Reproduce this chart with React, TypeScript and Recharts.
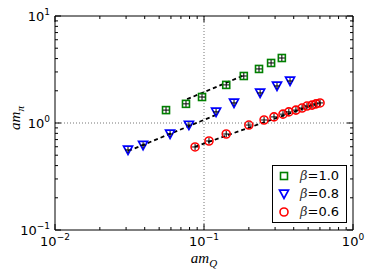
import React from 'react';
import { ComposedChart, Scatter, XAxis, YAxis, ReferenceLine, Legend, Label } from 'recharts';

// axis ticks (log scale)
const xMajorTicks = [0.01, 0.1, 1];
const xMinorTicks = [0.02, 0.03, 0.04, 0.05, 0.06, 0.07, 0.08, 0.09, 0.2, 0.3, 0.4, 0.5, 0.6, 0.7, 0.8, 0.9];
const yMajorTicks = [0.1, 1, 10];
const yMinorTicks = [0.2, 0.3, 0.4, 0.5, 0.6, 0.7, 0.8, 0.9, 2, 3, 4, 5, 6, 7, 8, 9];
const xTickExponents = ['\u22122', '\u22121', '0'];
const yTickExponents = ['\u22121', '0', '1'];

// beta = 1.0
const beta10X = [0.0556, 0.0757, 0.097, 0.141, 0.185, 0.234, 0.282, 0.333];
const beta10Y = [1.32, 1.51, 1.75, 2.27, 2.75, 3.2, 3.64, 4.05];
// beta = 0.8
const beta08X = [0.0309, 0.039, 0.0592, 0.0792, 0.1205, 0.159, 0.238, 0.309, 0.378];
const beta08Y = [0.56, 0.62, 0.79, 0.957, 1.27, 1.54, 1.91, 2.22, 2.47];
// beta = 0.6
const beta06X = [0.0871, 0.108, 0.141, 0.2, 0.253, 0.295, 0.339, 0.371, 0.414, 0.455, 0.491, 0.531, 0.565, 0.601];
const beta06Y = [0.597, 0.679, 0.789, 0.957, 1.067, 1.14, 1.21, 1.27, 1.32, 1.38, 1.44, 1.47, 1.51, 1.54];

// fitted lines (end points)
const fit10X = [0.077, 0.188];
const fit10Y = [1.67, 2.81];
const fit08X = [0.031, 0.124];
const fit08Y = [0.547, 1.21];
const fit06X = [0.087, 0.6];
const fit06Y = [0.6, 1.55];

const betaLabels = ['1.0', '0.8', '0.6'];

const toPoints = (xs: number[], ys: number[]) => xs.map((x, i) => ({ x, y: ys[i] }));

const GREEN = '#008000';
const BLUE = '#0000ff';
const RED = '#ff0000';

const Cross = ({ cx, cy }: { cx: number; cy: number }) => (
  <g stroke="#000" strokeWidth={1}>
    <line x1={cx - 3} y1={cy} x2={cx + 3} y2={cy} />
    <line x1={cx} y1={cy - 3} x2={cx} y2={cy + 3} />
  </g>
);

const Marker = ({ kind, cx, cy, cross }: { kind: string; cx: number; cy: number; cross?: boolean }) => {
  let body = null;
  if (kind === 'square') {
    body = <rect x={cx - 3.5} y={cy - 3.5} width={7} height={7} fill="none" stroke={GREEN} strokeWidth={1.6} />;
  } else if (kind === 'tri') {
    body = (
      <polygon
        points={`${cx - 4.5},${cy - 3.8} ${cx + 4.5},${cy - 3.8} ${cx},${cy + 4.5}`}
        fill="none"
        stroke={BLUE}
        strokeWidth={1.7}
        strokeLinejoin="miter"
      />
    );
  } else {
    body = <circle cx={cx} cy={cy} r={4} fill="none" stroke={RED} strokeWidth={1.6} />;
  }
  return (
    <g>
      {body}
      {cross && <Cross cx={cx} cy={cy} />}
    </g>
  );
};

const seriesList = [
  { kind: 'square', label: betaLabels[0] },
  { kind: 'tri', label: betaLabels[1] },
  { kind: 'circle', label: betaLabels[2] },
];

const near = (a: number, b: number) => Math.abs(a - b) <= Math.abs(b) * 1e-6;

const AxisTick = (props: any) => {
  const { x, y, payload, side } = props;
  const v = payload.value;
  const isX = side === 'bottom' || side === 'top';
  const majors = isX ? xMajorTicks : yMajorTicks;
  const idx = majors.findIndex((m) => near(v, m));
  const len = idx >= 0 ? 6 : 3;
  let line = null;
  let text = null;
  if (side === 'bottom') {
    line = <line x1={x} y1={y} x2={x} y2={y - len} stroke="#000" />;
    if (idx >= 0) {
      text = (
        <text x={x} y={y + 16} textAnchor="middle" fontFamily="DejaVu Sans" fontSize={13} fill="#000">
          10<tspan dy={-6} fontSize={9}>{xTickExponents[idx]}</tspan>
        </text>
      );
    }
  } else if (side === 'top') {
    line = <line x1={x} y1={y} x2={x} y2={y + len} stroke="#000" />;
  } else if (side === 'left') {
    line = <line x1={x} y1={y} x2={x + len} y2={y} stroke="#000" />;
    if (idx >= 0) {
      text = (
        <text x={x - 5} y={y + 4.5} textAnchor="end" fontFamily="DejaVu Sans" fontSize={13} fill="#000">
          10<tspan dy={-6} fontSize={9}>{yTickExponents[idx]}</tspan>
        </text>
      );
    }
  } else {
    line = <line x1={x} y1={y} x2={x - len} y2={y} stroke="#000" />;
  }
  return (
    <g>
      {line}
      {text}
    </g>
  );
};

const LegendBox = () => (
  <div
    style={{
      width: 75,
      height: 58,
      border: '1px solid #000',
      background: '#fff',
      boxSizing: 'border-box',
      paddingTop: 1,
    }}
  >
    {seriesList.map((s) => (
      <div key={s.label} style={{ display: 'flex', alignItems: 'center', height: 18 }}>
        <svg width={27} height={18} style={{ display: 'block' }}>
          <Marker kind={s.kind} cx={11} cy={9} />
        </svg>
        <span style={{ fontFamily: 'DejaVu Sans', fontSize: 13, color: '#000', whiteSpace: 'nowrap', lineHeight: '18px' }}>
          <span style={{ fontFamily: 'DejaVu Serif', fontStyle: 'italic', color: '#333' }}>β</span>={s.label}
        </span>
      </div>
    ))}
  </div>
);

const axisLine = { stroke: '#000', strokeWidth: 1 };

export default function App() {
  const allX = [...xMajorTicks, ...xMinorTicks];
  const allY = [...yMajorTicks, ...yMinorTicks];
  const fitLine = { stroke: '#000', strokeWidth: 1.8, strokeDasharray: '4 3' };

  return (
    <div style={{ position: 'absolute', left: 0, top: 0, width: 374, height: 280, background: '#fff' }}>
      <ComposedChart width={374} height={280} margin={{ top: 15, right: 20, bottom: 20, left: 15 }}>
        <XAxis
          xAxisId="b"
          dataKey="x"
          type="number"
          scale="log"
          domain={[0.01, 1]}
          allowDataOverflow
          ticks={allX}
          interval={0}
          height={30}
          tickSize={0}
          tickMargin={0}
          axisLine={axisLine}
          tickLine={false}
          tick={(p: any) => <AxisTick {...p} side="bottom" />}
        >
          <Label
            content={(p: any) => {
              const vb = p.viewBox || { x: 55, y: 230, width: 298 };
              return (
                <text
                  x={vb.x + vb.width / 2}
                  y={vb.y + 33}
                  textAnchor="middle"
                  fontFamily="Liberation Serif"
                  fontStyle="italic"
                  fontSize={15}
                  fill="#000"
                >
                  am<tspan dy={4} fontSize={11}>Q</tspan>
                </text>
              );
            }}
          />
        </XAxis>
        <XAxis
          xAxisId="t"
          orientation="top"
          dataKey="x"
          type="number"
          scale="log"
          domain={[0.01, 1]}
          allowDataOverflow
          ticks={allX}
          interval={0}
          height={1}
          tickSize={0}
          tickMargin={0}
          axisLine={axisLine}
          tickLine={false}
          tick={(p: any) => <AxisTick {...p} side="top" />}
        />
        <YAxis
          yAxisId="l"
          dataKey="y"
          type="number"
          scale="log"
          domain={[0.1, 10]}
          allowDataOverflow
          ticks={allY}
          interval={0}
          width={40}
          tickSize={0}
          tickMargin={0}
          axisLine={axisLine}
          tickLine={false}
          tick={(p: any) => <AxisTick {...p} side="left" />}
        >
          <Label
            content={(p: any) => {
              const vb = p.viewBox || { x: 15, y: 16, height: 214 };
              const cx = 20;
              const cy = vb.y + vb.height / 2 - 5;
              return (
                <text
                  x={cx}
                  y={cy}
                  transform={`rotate(-90, ${cx}, ${cy})`}
                  textAnchor="middle"
                  fontFamily="Liberation Serif"
                  fontStyle="italic"
                  fontSize={15}
                  fill="#000"
                >
                  am<tspan dy={4} fontSize={11}>π</tspan>
                </text>
              );
            }}
          />
        </YAxis>
        <YAxis
          yAxisId="r"
          orientation="right"
          dataKey="y"
          type="number"
          scale="log"
          domain={[0.1, 10]}
          allowDataOverflow
          ticks={allY}
          interval={0}
          width={1}
          tickSize={0}
          tickMargin={0}
          axisLine={axisLine}
          tickLine={false}
          tick={(p: any) => <AxisTick {...p} side="right" />}
        />

        <ReferenceLine xAxisId="b" yAxisId="l" x={0.1} stroke="#777" strokeDasharray="1 2" strokeWidth={1} />
        <ReferenceLine xAxisId="b" yAxisId="l" y={1} stroke="#777" strokeDasharray="1 2" strokeWidth={1} />

        <Scatter
          xAxisId="b"
          yAxisId="l"
          name="fit10"
          data={toPoints(fit10X, fit10Y)}
          line={fitLine}
          shape={() => <g />}
          legendType="none"
          isAnimationActive={false}
        />
        <Scatter
          xAxisId="b"
          yAxisId="l"
          name="fit08"
          data={toPoints(fit08X, fit08Y)}
          line={fitLine}
          shape={() => <g />}
          legendType="none"
          isAnimationActive={false}
        />
        <Scatter
          xAxisId="b"
          yAxisId="l"
          name="fit06"
          data={toPoints(fit06X, fit06Y)}
          line={fitLine}
          shape={() => <g />}
          legendType="none"
          isAnimationActive={false}
        />

        <Scatter
          xAxisId="b"
          yAxisId="l"
          name="β=1.0"
          data={toPoints(beta10X, beta10Y)}
          fill={GREEN}
          shape={(p: any) => <Marker kind="square" cx={p.cx} cy={p.cy} cross />}
          isAnimationActive={false}
        />
        <Scatter
          xAxisId="b"
          yAxisId="l"
          name="β=0.8"
          data={toPoints(beta08X, beta08Y)}
          fill={BLUE}
          shape={(p: any) => <Marker kind="tri" cx={p.cx} cy={p.cy} cross />}
          isAnimationActive={false}
        />
        <Scatter
          xAxisId="b"
          yAxisId="l"
          name="β=0.6"
          data={toPoints(beta06X, beta06Y)}
          fill={RED}
          shape={(p: any) => <Marker kind="circle" cx={p.cx} cy={p.cy} cross />}
          isAnimationActive={false}
        />

        <Legend
          layout="vertical"
          align="center"
          verticalAlign="middle"
          content={() => <LegendBox />}
          wrapperStyle={{ left: 272, top: 165, width: 75, height: 58 }}
        />
      </ComposedChart>
    </div>
  );
}
